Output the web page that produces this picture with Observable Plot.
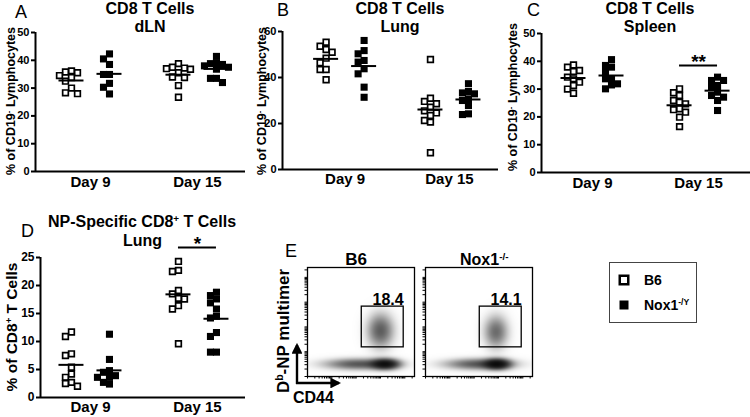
<!DOCTYPE html>
<html><head><meta charset="utf-8">
<script src="https://cdn.jsdelivr.net/npm/d3@7"></script>
<script src="https://cdn.jsdelivr.net/npm/@observablehq/plot@0.6"></script>
<style>
body{margin:0;background:#fff;}
#root{position:relative;width:750px;height:417px;overflow:hidden;background:#fff;font-family:"Liberation Sans",Arial,Helvetica,sans-serif;}
</style></head><body><div id="root"></div>
<script>
// ---------- DATA ----------
const days = ["Day 9", "Day 15"];
const genotypes = ["B6", "Nox1-/Y"];

// Panel A: CD8 T cells, dLN (% of CD19- lymphocytes)
const dln_b6_day9   = [36.2, 35.8, 35.5, 34.5, 33.8, 32.5, 30, 28.3, 28];
const dln_nox_day9  = [42.3, 40.5, 38.5, 34.9, 34.9, 31.7, 30.3, 27.9];
const dln_b6_day15  = [38.8, 37.5, 37.2, 37, 36.8, 35.5, 34, 33.8, 30.9, 26.7];
const dln_nox_day15 = [41.4, 39, 38.8, 38.5, 38, 37.5, 36.8, 33.5, 33.5, 32];

// Panel B: CD8 T cells, Lung
const lung_b6_day9   = [55.3, 53.6, 52.2, 51, 48.4, 46.4, 43.5, 43.5, 39];
const lung_nox_day9  = [56.1, 51.7, 50.3, 47.4, 46.7, 43.8, 41.6, 35.8, 31.4];
const lung_b6_day15  = [47.8, 31, 29.6, 28.6, 27.1, 25.5, 24.6, 23.5, 21.3, 20.6, 7.3];
const lung_nox_day15 = [37.3, 33.9, 33.3, 32.9, 30.7, 30, 27.8, 24.2, 23.9];

// Panel C: CD8 T cells, Spleen
const spl_b6_day9   = [38.7, 37.9, 36.7, 36.3, 34.3, 33.7, 32.5, 31.3, 30, 28.5];
const spl_nox_day9  = [40.6, 38.5, 37.9, 36.1, 33.7, 33.7, 31.9, 31.5, 30.1];
const spl_b6_day15  = [30.1, 28.7, 27.7, 25.9, 25.3, 24.7, 22.9, 22.6, 21.7, 19.9, 16.5];
const spl_nox_day15 = [34.3, 33.1, 33.1, 31.3, 30.7, 28.9, 27.7, 27.1, 25.9, 22.3];

// Panel D: NP-specific CD8+ T cells, Lung (% of CD8+ T cells)
const np_b6_day9   = [11.7, 10.9, 7.8, 7.5, 5.4, 4.2, 3.6, 2.7, 2.5, 2.0];
const np_nox_day9  = [11.3, 6.8, 4.8, 4.5, 3.9, 3.6, 3.6, 2.7, 2.4];
const np_b6_day15  = [24.3, 22.7, 22.5, 19.1, 18.5, 17.7, 17.6, 16.4, 15.8, 9.6];
const np_nox_day15 = [18.8, 18.2, 17.6, 16.9, 15.8, 14.5, 14.2, 11.6, 10.9, 8.1, 8.1];

// Panel E: flow plots (CD44 vs Db-NP multimer): gate and populations (log10 units)
const flowSamples   = ["B6", "Nox1-/-"];
const gatePercent   = [18.4, 14.1];
const gateCD44      = [1700, 90000];
const gateMultimer  = [150, 6600];
const popSample     = ["B6", "B6", "B6", "Nox1-/-", "Nox1-/-", "Nox1-/-"];
const popLogCD44    = [3.1, 4.2, 4.0, 3.2, 3.95, 3.9];
const popLogMult    = [1.5, 1.5, 2.85, 1.5, 1.5, 2.8];
const popSpreadCD44 = [0.85, 0.35, 0.33, 0.85, 0.32, 0.3];
const popSpreadMult = [0.14, 0.13, 0.42, 0.14, 0.13, 0.4];
const popWeight     = [0.45, 1.0, 0.42, 0.45, 1.0, 0.36];

// ---------- HELPERS ----------
const FONT = '"Liberation Sans", Arial, Helvetica, sans-serif';
const root = document.getElementById("root");

function swarm(values, kY) {
  const step = 6, gap = 6, placed = [];
  return values.map(v => {
    const py = v * kY;
    for (let j = 0; j < 30; j++) {
      const off = j === 0 ? 0 : (j % 2 ? -1 : 1) * Math.ceil(j / 2) * step;
      if (placed.every(p => Math.abs(p.py - py) >= gap || Math.abs(p.off - off) >= gap)) {
        placed.push({py, off}); return off;
      }
    }
    return 0;
  });
}

function place(el, left, top) {
  el.style.position = "absolute";
  el.style.left = left + "px";
  el.style.top = top + "px";
  root.appendChild(el);
}

function scatterPanel(p) {
  const kY = (p.height - p.mT - p.mB) / p.yMax;
  const kX = (p.width - p.mL - p.mR) / (p.xDomain[1] - p.xDomain[0]);
  const genoOff = {B6: -19 / kX, Nox: 19 / kX};
  const rows = [], means = [];
  p.series.forEach(g => {
    const cx = g.day + genoOff[g.geno];
    const offs = swarm(g.values, kY);
    g.values.forEach((v, i) => rows.push({geno: g.geno, value: v, x: cx + offs[i] / kX}));
    means.push({value: d3.mean(g.values), x1: cx - 12.5 / kX, x2: cx + 12.5 / kX});
  });
  const marks = [
    Plot.ruleY([0], {stroke: "black", strokeWidth: 2}),
    Plot.ruleX([p.xDomain[0]], {y1: 0, y2: p.yMax, stroke: "black", strokeWidth: 2}),
    Plot.axisY({ticks: p.yTicks, tickSize: 4, tickPadding: 2, strokeWidth: 2, fontSize: p.tickFont, fontWeight: "bold", label: null}),
    Plot.axisX({ticks: [1, 2], tickFormat: d => days[d - 1], tickSize: 0, tickPadding: p.dayPad, fontSize: 15, fontWeight: "bold", label: null}),
    Plot.dot(rows.filter(d => d.geno === "B6"), {x: "x", y: "value", symbol: "square", r: 3.2, fill: "white", stroke: "black", strokeWidth: 1.7}),
    Plot.dot(rows.filter(d => d.geno === "Nox"), {x: "x", y: "value", symbol: "square", r: 4, fill: "black"}),
    Plot.ruleY(means, {y: "value", x1: "x1", x2: "x2", stroke: "black", strokeWidth: 2})
  ];
  if (p.sig) {
    const s = [{y: p.sig.y, x1: p.sig.day + genoOff.B6, x2: p.sig.day + genoOff.Nox, x: p.sig.day, label: p.sig.label}];
    marks.push(Plot.ruleY(s, {y: "y", x1: "x1", x2: "x2", stroke: "black", strokeWidth: 2}));
    marks.push(Plot.text(s, {x: "x", y: "y", text: "label", dy: -4, fontSize: 19, fontWeight: "bold"}));
  }
  const el = Plot.plot({
    width: p.width, height: p.height,
    marginLeft: p.mL, marginRight: p.mR, marginTop: p.mT, marginBottom: p.mB,
    x: {domain: p.xDomain},
    y: {domain: [0, p.yMax]},
    style: {background: "transparent", fontFamily: FONT, fontWeight: "bold", color: "black", overflow: "visible"},
    marks
  });
  place(el, p.left, p.top);
}

// ---------- SCATTER PANELS ----------
scatterPanel({left: 0, top: 0, width: 250, height: 210, mL: 35, mR: 5, mT: 32, mB: 39,
  xDomain: [0.486, 2.449], yMax: 50, yTicks: [0, 10, 20, 30, 40, 50], dayPad: 5, tickFont: 11,
  series: [{day: 1, geno: "B6", values: dln_b6_day9}, {day: 1, geno: "Nox", values: dln_nox_day9},
           {day: 2, geno: "B6", values: dln_b6_day15}, {day: 2, geno: "Nox", values: dln_nox_day15}]});

scatterPanel({left: 250, top: 0, width: 250, height: 210, mL: 32, mR: 2, mT: 31, mB: 41,
  xDomain: [0.4, 2.47], yMax: 60, yTicks: [0, 20, 40, 60], dayPad: 4, tickFont: 11,
  series: [{day: 1, geno: "B6", values: lung_b6_day9}, {day: 1, geno: "Nox", values: lung_nox_day9},
           {day: 2, geno: "B6", values: lung_b6_day15}, {day: 2, geno: "Nox", values: lung_nox_day15}]});

scatterPanel({left: 500, top: 0, width: 250, height: 210, mL: 41, mR: 0, mT: 33, mB: 38,
  xDomain: [0.519, 2.49], yMax: 50, yTicks: [0, 10, 20, 30, 40, 50], dayPad: 5, tickFont: 11,
  series: [{day: 1, geno: "B6", values: spl_b6_day9}, {day: 1, geno: "Nox", values: spl_nox_day9},
           {day: 2, geno: "B6", values: spl_b6_day15}, {day: 2, geno: "Nox", values: spl_nox_day15}],
  sig: {day: 2, y: 38.5, label: "**"}});

scatterPanel({left: 0, top: 210, width: 250, height: 207, mL: 40, mR: 5, mT: 47, mB: 20,
  xDomain: [0.533, 2.449], yMax: 25, yTicks: [0, 5, 10, 15, 20, 25], dayPad: 4, tickFont: 12,
  series: [{day: 1, geno: "B6", values: np_b6_day9}, {day: 1, geno: "Nox", values: np_nox_day9},
           {day: 2, geno: "B6", values: np_b6_day15}, {day: 2, geno: "Nox", values: np_nox_day15}],
  sig: {day: 2, y: 26.8, label: "*"}});

// ---------- FLOW PANELS ----------
const LMIN = 1, LMAX = Math.log10(250000);
const logTicks = d3.range(1, 6).flatMap(e => d3.range(1, 10).map(k => Math.log10(k * 10 ** e))).filter(v => v >= LMIN && v <= LMAX);
const pops = popSample.map((s, i) => ({sample: s, cx: popLogCD44[i], cy: popLogMult[i], sx: popSpreadCD44[i], sy: popSpreadMult[i], w: popWeight[i]}));
const gates = flowSamples.map((s, i) => ({sample: s, x1: Math.log10(gateCD44[0]), x2: Math.log10(gateCD44[1]),
  y1: Math.log10(gateMultimer[0]), y2: Math.log10(gateMultimer[1]), pct: gatePercent[i].toFixed(1)}));

function flowPanel(sample, left, top) {
  const P = pops.filter(d => d.sample === sample);
  const density = (x, y) => {
    let v = 0;
    for (const p of P) v += p.w * Math.exp(-((x - p.cx) ** 2) / (2 * p.sx ** 2) - ((y - p.cy) ** 2) / (2 * p.sy ** 2));
    return 1 - Math.exp(-2.4 * v);
  };
  const marks = [];
  if (typeof Plot.raster === "function") {
    marks.push(Plot.raster({x1: LMIN, x2: LMAX, y1: LMIN, y2: LMAX, fill: density, pixelSize: 1}));
  }
  marks.push(
    Plot.frame({stroke: "black", strokeWidth: 1.3}),
    Plot.rect(gates.filter(d => d.sample === sample), {x1: "x1", x2: "x2", y1: "y1", y2: "y2", fill: "none", stroke: "black", strokeWidth: 1.3}),
    Plot.text(gates.filter(d => d.sample === sample), {x: "x2", y: "y2", text: "pct", textAnchor: "end", dy: -7, fontSize: 16, fontWeight: "bold"}),
    Plot.axisX({ticks: logTicks, tickSize: 2.5, tickFormat: () => "", label: null, strokeWidth: 1}),
    Plot.axisY({ticks: logTicks, tickSize: 2.5, tickFormat: () => "", label: null, strokeWidth: 1})
  );
  const el = Plot.plot({
    width: 123, height: 131, marginLeft: 8, marginRight: 8, marginTop: 12, marginBottom: 10,
    x: {domain: [LMIN, LMAX]},
    y: {domain: [LMIN, LMAX]},
    color: {type: "linear", domain: [0, 1], range: ["white", "black"]},
    style: {background: "transparent", fontFamily: FONT, fontWeight: "bold", color: "black", overflow: "visible"},
    marks
  });
  place(el, left, top);
}
flowPanel("B6", 299, 255);
flowPanel("Nox1-/-", 417, 255);

// ---------- ANNOTATION OVERLAY ----------
const svg = d3.select(root).append("svg")
  .attr("width", 750).attr("height", 417)
  .style("position", "absolute").style("left", "0px").style("top", "0px")
  .style("font-family", FONT);

function text(x, y, parts, {size = 15, weight = "bold", anchor = "middle", rotate = false} = {}) {
  const g = svg.append("g").attr("transform", `translate(${x},${y})` + (rotate ? " rotate(-90)" : ""));
  const t = g.append("text").attr("text-anchor", anchor).attr("font-size", size).attr("font-weight", weight).attr("fill", "black");
  if (rotate) t.attr("dy", "0.36em");
  (Array.isArray(parts) ? parts : [[parts]]).forEach(([s, sup]) => {
    const ts = t.append("tspan").text(s);
    if (sup) ts.attr("baseline-shift", "super").attr("font-size", size * 0.62);
  });
}

// panel letters
text(15, 18, "A", {size: 18, weight: "normal", anchor: "start"});
text(277, 16, "B", {size: 18, weight: "normal", anchor: "start"});
text(527, 16, "C", {size: 18, weight: "normal", anchor: "start"});
text(21, 237, "D", {size: 18, weight: "normal", anchor: "start"});
text(285, 257, "E", {size: 18, weight: "normal", anchor: "start"});

// titles
text(150, 14, "CD8 T Cells", {size: 16});
text(150, 32, "dLN", {size: 16});
text(400, 14, "CD8 T Cells", {size: 16});
text(400, 32, "Lung", {size: 16});
text(650, 14, "CD8 T Cells", {size: 16});
text(650, 32, "Spleen", {size: 16});
text(142, 227, [["NP-Specific CD8"], ["+", true], [" T Cells"]], {size: 16});
text(142.5, 246, "Lung", {size: 16});

// y-axis labels
const cd19 = [["% of CD19"], ["-", true], [" Lymphocytes"]];
text(10, 101, cd19, {size: 12.5, rotate: true});
text(261, 101, cd19, {size: 12.5, rotate: true});
text(512, 97, cd19, {size: 12.5, rotate: true});
text(11, 327, [["% of CD8"], ["+", true], [" T Cells"]], {size: 15.5, rotate: true});

// flow labels
text(356, 265, "B6", {size: 17});
text(460, 265, [["Nox1"], ["-/-", true]], {size: 16, anchor: "start"});
text(283, 331, [["D"], ["b", true], ["-NP multimer"]], {size: 17, rotate: true});
text(293, 403, "CD44", {size: 16, anchor: "start"});
// axis arrows
const defs = svg.append("defs");
defs.append("marker").attr("id", "ah").attr("viewBox", "0 0 10 10").attr("refX", 8).attr("refY", 5)
  .attr("markerWidth", 4.5).attr("markerHeight", 4.5).attr("orient", "auto")
  .append("path").attr("d", "M0,0L10,5L0,10z").attr("fill", "black");
svg.append("path").attr("d", "M297,384V345").attr("stroke", "black").attr("stroke-width", 2.4).attr("fill", "none").attr("marker-end", "url(#ah)");
svg.append("path").attr("d", "M296,383H339").attr("stroke", "black").attr("stroke-width", 2.4).attr("fill", "none").attr("marker-end", "url(#ah)");

// legend
svg.append("rect").attr("x", 609.5).attr("y", 262.5).attr("width", 87).attr("height", 60).attr("fill", "white").attr("stroke", "#444").attr("stroke-width", 1);
svg.append("rect").attr("x", 624 - 4.25).attr("y", 280 - 4.25).attr("width", 8.5).attr("height", 8.5).attr("fill", "white").attr("stroke", "black").attr("stroke-width", 2.5);
svg.append("rect").attr("x", 624 - 4.5).attr("y", 305 - 4.5).attr("width", 9).attr("height", 9).attr("fill", "black");
text(644, 285, genotypes[0], {size: 14, anchor: "start"});
text(644, 309.5, [["Nox1"], ["-/Y", true]], {size: 14, anchor: "start"});
</script></body></html>
